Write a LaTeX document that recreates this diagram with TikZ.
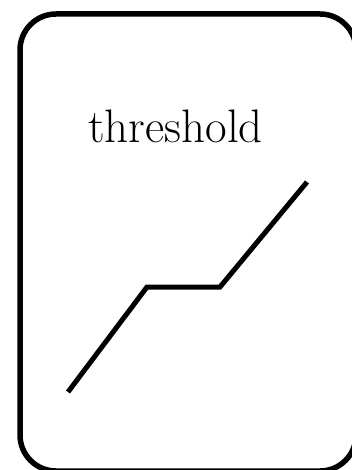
\documentclass[tikz,border=0pt]{standalone}
\begin{document}
\begin{tikzpicture}[x=1pt,y=-1pt,
  frame/.style={draw=black,line width=5.5pt,rounded corners=36pt},
  curve/.style={draw=black,line width=5pt,line join=miter},
  lbl/.style={inner sep=0pt,anchor=base west,font=\fontsize{47}{55}\selectfont}]
\useasboundingbox (0,0) rectangle (351,470);
\draw[frame] (20,14) rectangle (356,471);
\node[lbl] (t) at (88,143) {threshold};
\coordinate (p1) at (68,392);
\coordinate (p2) at (147,287);
\coordinate (p3) at (220,287);
\coordinate (p4) at (307,182);
\draw[curve] (p1) -- (p2) -- (p3) -- (p4);
\end{tikzpicture}
\end{document}
